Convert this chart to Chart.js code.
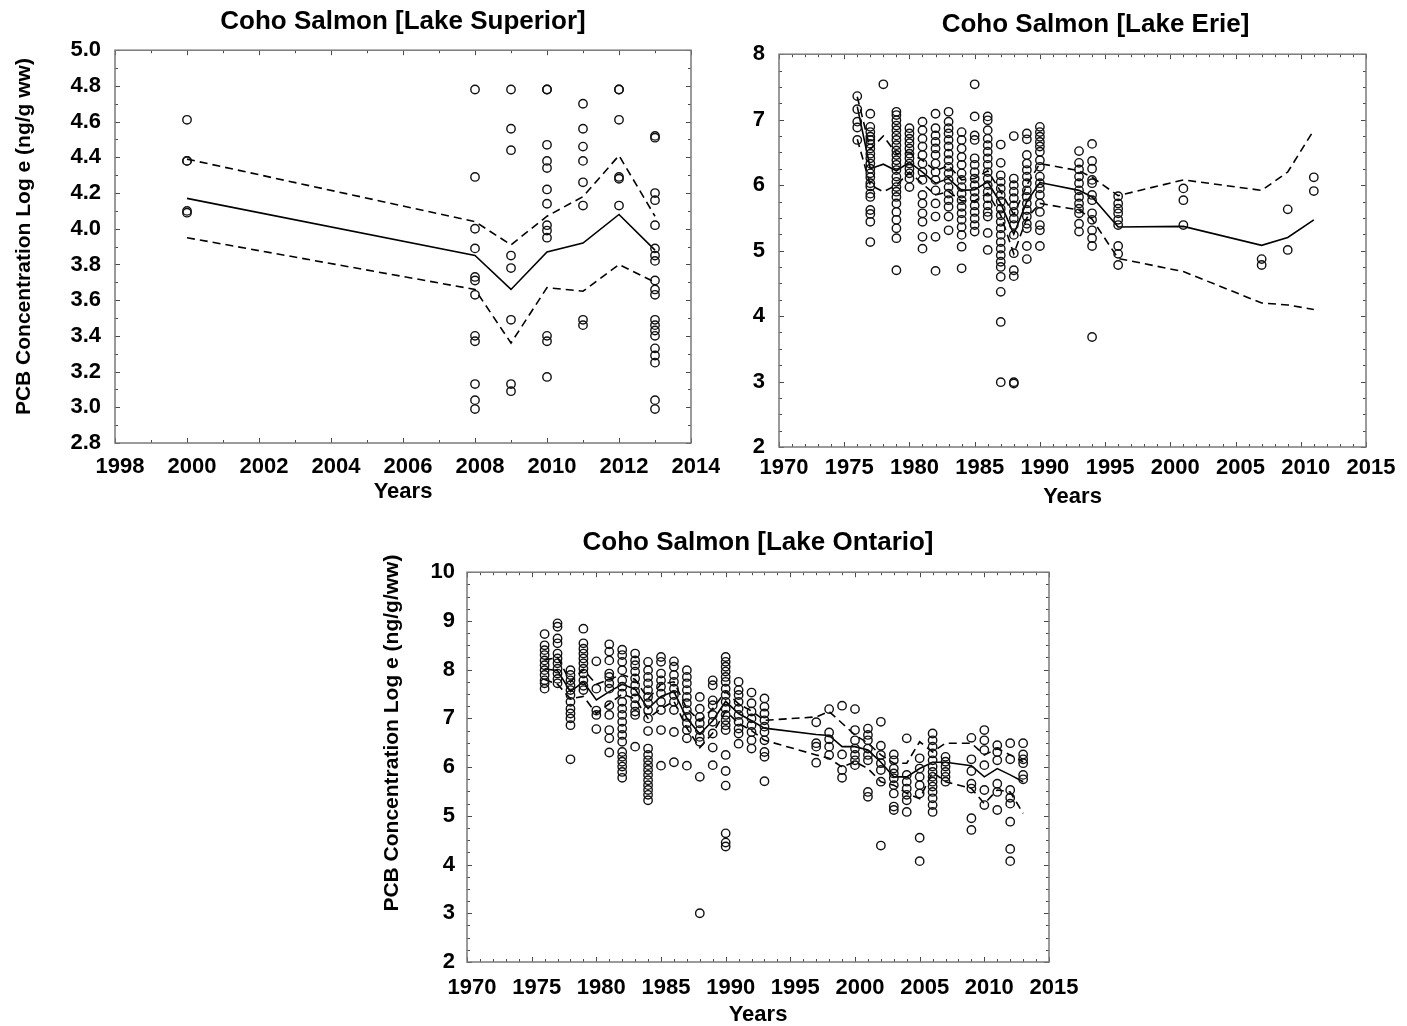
<!DOCTYPE html>
<html><head><meta charset="utf-8">
<script src="https://cdn.jsdelivr.net/npm/chart.js@4.4.1/dist/chart.umd.min.js"></script>
<style>
html,body{margin:0;padding:0;background:#fff;overflow:hidden;width:1407px;height:1026px;}
canvas{position:absolute;display:block;}
</style></head><body>
<canvas id="c1" width="720" height="515" style="left:0;top:0"></canvas>
<canvas id="c2" width="687" height="515" style="left:720px;top:0"></canvas>
<canvas id="c3" width="720" height="522" style="left:360px;top:510px"></canvas>
<script>
// ---------- Lake Superior ----------
const supYears = [2000, 2008, 2009, 2010, 2011, 2012, 2013];
const supObs = [
  [4.61, 4.38, 4.38, 4.10, 4.09],
  [4.78, 4.29, 4.00, 3.89, 3.73, 3.71, 3.63, 3.40, 3.37, 3.13, 3.04, 2.99],
  [4.78, 4.56, 4.44, 3.85, 3.78, 3.49, 3.13, 3.09],
  [4.78, 4.78, 4.47, 4.38, 4.34, 4.22, 4.14, 4.02, 3.99, 3.95, 3.40, 3.37, 3.17],
  [4.70, 4.56, 4.46, 4.38, 4.26, 4.13, 3.49, 3.46],
  [4.78, 4.78, 4.61, 4.29, 4.28, 4.13],
  [4.52, 4.51, 4.20, 4.16, 4.02, 3.89, 3.85, 3.82, 3.71, 3.66, 3.63, 3.49, 3.46, 3.43, 3.40, 3.33, 3.29, 3.25, 3.04, 2.99]
];
const supMean  = [4.17, 3.85, 3.66, 3.87, 3.92, 4.08, 3.88];
const supUpper = [4.39, 4.04, 3.91, 4.07, 4.18, 4.41, 4.07];
const supLower = [3.95, 3.66, 3.36, 3.67, 3.65, 3.80, 3.70];

// ---------- Lake Erie ----------
const erieYears = [1976,1977,1978,1979,1980,1981,1982,1983,1984,1985,1986,1987,1988,1989,1990,1993,1994,1996,2001,2007,2009,2011];
const erieObs = [
  [7.36,7.16,6.97,6.88,6.69],
  [7.09,6.89,6.81,6.74,6.69,6.63,6.56,6.48,6.41,6.33,6.25,6.18,6.12,6.03,5.98,5.87,5.82,5.62,5.56,5.44,5.13],
  [7.54],
  [7.12,7.07,6.99,6.91,6.84,6.76,6.69,6.61,6.53,6.46,6.38,6.31,6.23,6.13,6.05,5.97,5.90,5.82,5.72,5.59,5.47,5.34,5.19,4.70],
  [6.87,6.79,6.71,6.64,6.56,6.48,6.41,6.33,6.25,6.18,6.10,5.97],
  [6.97,6.84,6.71,6.59,6.46,6.33,6.20,6.08,5.85,5.72,5.57,5.44,5.21,5.03],
  [7.09,6.87,6.76,6.66,6.56,6.46,6.33,6.20,6.08,5.92,5.72,5.52,5.21,4.69],
  [7.12,6.97,6.87,6.79,6.69,6.59,6.48,6.38,6.28,6.18,6.08,5.97,5.87,5.77,5.67,5.52,5.31],
  [6.81,6.69,6.56,6.43,6.31,6.18,6.08,5.97,5.87,5.77,5.67,5.57,5.47,5.36,5.24,5.06,4.73],
  [7.54,7.05,6.76,6.69,6.41,6.31,6.20,6.10,6.00,5.90,5.80,5.69,5.59,5.49,5.39,5.29],
  [7.05,6.99,6.84,6.71,6.61,6.51,6.41,6.31,6.20,6.10,6.00,5.90,5.80,5.69,5.59,5.52,5.27,5.01],
  [6.62,6.34,6.15,6.05,5.95,5.85,5.75,5.64,5.54,5.44,5.34,5.24,5.13,5.03,4.93,4.83,4.75,4.60,4.37,3.91,2.99],
  [6.75,6.10,6.00,5.90,5.80,5.69,5.59,5.49,5.39,5.24,4.96,4.70,4.61,2.99,2.97],
  [6.79,6.70,6.46,6.33,6.23,6.13,6.03,5.92,5.82,5.72,5.62,5.52,5.41,5.34,5.07,4.87],
  [6.89,6.81,6.74,6.66,6.59,6.51,6.38,6.28,6.13,6.03,5.95,5.85,5.72,5.59,5.39,5.31,5.07],
  [6.52,6.34,6.24,6.13,6.03,5.92,5.82,5.72,5.64,5.57,5.41,5.29],
  [6.63,6.37,6.25,6.08,6.03,5.85,5.77,5.57,5.47,5.31,5.19,5.07,3.68],
  [5.83,5.72,5.64,5.57,5.47,5.39,5.07,4.95,4.78],
  [5.95,5.77,5.39],
  [4.87,4.78],
  [5.63,5.01],
  [6.12,5.91]
];
const erieMean  = [7.20,6.25,6.32,6.22,6.35,6.20,6.03,6.10,5.92,5.93,6.05,5.72,5.25,5.75,6.04,5.92,5.82,5.36,5.37,5.08,5.20,5.47];
const erieUpper = [7.35,6.55,6.75,6.48,6.50,6.38,6.22,6.30,6.08,6.10,6.22,5.90,5.55,6.00,6.33,6.22,6.12,5.84,6.08,5.92,6.20,6.84];
const erieLower = [6.70,6.00,5.90,6.00,6.20,6.02,5.85,5.90,5.76,5.76,5.88,5.54,4.95,5.50,5.72,5.62,5.48,4.88,4.68,4.20,4.17,4.10];

// ---------- Lake Ontario ----------
const ontYears = [1976,1977,1978,1979,1980,1981,1982,1983,1984,1985,1986,1987,1988,1989,1990,1991,1992,1993,1997,1998,1999,2000,2001,2002,2003,2004,2005,2006,2007,2009,2010,2011,2012,2013];
const ontObs = [
  [8.73,8.50,8.40,8.30,8.19,8.09,7.99,7.89,7.78,7.72,7.61],
  [8.95,8.88,8.64,8.54,8.33,8.23,8.13,8.02,7.92,7.81,7.72],
  [7.99,7.89,7.78,7.68,7.58,7.48,7.34,7.20,7.10,7.00,6.86,6.16],
  [8.84,8.54,8.43,8.33,8.23,8.13,8.02,7.92,7.78,7.67,7.58],
  [8.17,7.61,7.16,7.07,6.78],
  [8.52,8.37,8.19,7.92,7.85,7.72,7.61,7.27,7.07,6.76,6.59,6.30],
  [8.41,8.30,8.16,7.99,7.78,7.65,7.51,7.34,7.20,7.07,6.93,6.79,6.66,6.52,6.31,6.21,6.11,6.01,5.90,5.78],
  [8.33,8.19,8.09,7.96,7.82,7.68,7.55,7.41,7.27,7.14,7.07,6.42],
  [8.16,7.99,7.85,7.72,7.58,7.44,7.31,7.17,7.00,6.74,6.38,6.25,6.14,6.04,5.94,5.84,5.73,5.63,5.53,5.43,5.32],
  [8.26,8.16,7.92,7.78,7.65,7.51,7.34,7.17,6.76,6.03],
  [8.17,8.06,7.89,7.75,7.61,7.48,7.34,7.17,6.72,6.10],
  [7.99,7.85,7.72,7.58,7.44,7.31,7.17,7.03,6.90,6.76,6.59,6.03],
  [7.44,7.20,7.03,6.90,6.76,6.62,6.52,5.80,3.00],
  [7.78,7.68,7.37,7.27,7.07,6.93,6.69,6.40,6.04],
  [8.26,8.16,8.06,7.96,7.85,7.75,7.61,7.48,7.34,7.20,7.07,6.96,6.86,6.76,6.25,5.92,5.62,4.64,4.45,4.37],
  [7.75,7.58,7.48,7.34,7.20,7.07,6.93,6.79,6.69,6.48],
  [7.53,7.31,7.14,7.00,6.86,6.72,6.55,6.38],
  [7.41,7.24,7.10,6.96,6.83,6.72,6.55,6.31,6.21,5.71],
  [6.92,6.49,6.42,6.09],
  [7.19,6.71,6.57,6.42,6.25],
  [7.26,6.26,5.94,5.78],
  [7.19,6.76,6.55,6.38,6.25,6.14,6.04],
  [6.79,6.66,6.55,6.38,6.25,6.14,5.49,5.39],
  [6.93,6.44,6.25,6.08,5.94,5.70,4.39],
  [6.26,6.14,5.97,5.87,5.77,5.63,5.46,5.19,5.12],
  [6.59,5.84,5.70,5.56,5.43,5.32,5.08],
  [6.18,5.97,5.80,5.63,5.46,4.55,4.07],
  [6.69,6.55,6.42,6.28,6.14,6.01,5.90,5.80,5.70,5.60,5.49,5.36,5.22,5.08],
  [6.21,6.11,6.01,5.90,5.80,5.70],
  [6.60,6.16,5.92,5.66,5.56,4.95,4.71],
  [6.76,6.55,6.35,6.04,5.53,5.22],
  [6.45,6.31,6.14,5.66,5.49,5.12],
  [6.49,6.16,5.53,5.37,5.25,4.88,4.32,4.07],
  [6.49,6.26,6.16,6.08,5.84,5.75]
];
const ontMean  = [8.02,7.98,7.55,7.75,7.38,7.55,7.70,7.60,7.20,7.45,7.55,7.00,6.68,6.95,7.35,7.10,6.95,6.80,6.67,6.65,6.42,6.42,6.35,6.10,5.80,5.80,5.97,6.10,6.10,6.03,5.80,5.97,5.84,5.70];
const ontUpper = [8.20,8.25,7.75,8.00,7.70,7.80,7.90,7.80,7.40,7.70,7.75,7.20,6.95,7.20,7.55,7.30,7.15,6.96,7.03,7.14,6.90,6.66,6.49,6.25,6.08,6.08,6.52,6.31,6.49,6.49,6.25,6.38,6.25,6.11];
const ontLower = [7.80,7.70,7.40,7.45,7.10,7.30,7.50,7.40,7.00,7.20,7.35,6.80,6.40,6.70,7.15,6.90,6.75,6.55,6.25,6.18,6.00,6.11,5.97,5.70,5.63,5.46,5.35,5.90,5.70,5.56,5.25,5.53,5.49,5.05];

// ---------- helpers ----------
const FONT = "'Liberation Sans', Arial, sans-serif";
function pointsFrom(years, obs){ const out=[]; years.forEach((yr,i)=>obs[i].forEach(v=>out.push({x:yr,y:v}))); return out; }
function lineFrom(years, vals){ return years.map((yr,i)=>({x:yr,y:vals[i]})); }

const frameTicks = {
  id:'frameTicks',
  afterDatasetsDraw(chart, args, o){
    const {ctx, chartArea:a, scales:{x,y}} = chart;
    ctx.save();
    ctx.beginPath(); ctx.strokeStyle='#4a4a4a'; ctx.lineWidth=1;
    const isMajor=(v,min,step)=>{const r=(v-min)/step; return Math.abs(r-Math.round(r))<1e-6;};
    const nx=Math.round((x.max-x.min)/o.xMinor);
    for(let i=0;i<=nx;i++){
      const v=x.min+i*o.xMinor; const len=isMajor(v,x.min,o.xMajor)?o.major:o.minor;
      const px=Math.round(x.getPixelForValue(v))+0.5;
      ctx.moveTo(px,a.bottom); ctx.lineTo(px,a.bottom-len);
      ctx.moveTo(px,a.top); ctx.lineTo(px,a.top+len);
    }
    const ny=Math.round((y.max-y.min)/o.yMinor);
    for(let i=0;i<=ny;i++){
      const v=y.min+i*o.yMinor; const len=isMajor(v,y.min,o.yMajor)?o.major:o.minor;
      const py=Math.round(y.getPixelForValue(v))+0.5;
      ctx.moveTo(a.left,py); ctx.lineTo(a.left+len,py);
      ctx.moveTo(a.right,py); ctx.lineTo(a.right-len,py);
    }
    ctx.stroke();
    ctx.strokeStyle='#7a7a7a'; ctx.lineWidth=1.5;
    ctx.strokeRect(a.left,a.top,a.right-a.left,a.bottom-a.top);
    ctx.restore();
  }
};

// nudges the chart title horizontally and the y-axis title vertically
const shifter = {
  id:'shifter',
  afterLayout(chart, args, o){
    if(o.titleDx && chart.titleBlock){ chart.titleBlock.left += o.titleDx; chart.titleBlock.right += o.titleDx; }
    const s = chart.scales.y;
    if(o.yTitleDy && s && !s.__shifted){
      s.__shifted = true;
      const orig = s.drawTitle;
      s.drawTitle = function(){ const c=this.ctx; c.save(); c.translate(0,o.yTitleDy); orig.call(this); c.restore(); };
    }
  }
};

function panel(id, o){
  const lineDs=(vals,dash)=>({data:lineFrom(o.years,vals), showLine:true, borderColor:'#000', backgroundColor:'#000', borderWidth:1.6, borderDash:dash, pointRadius:0, fill:false, order:1});
  const tickFont = {family:FONT, size:22, weight:'bold'};
  return new Chart(document.getElementById(id), {
    type:'scatter',
    data:{datasets:[
      lineDs(o.upper,[8,5]),
      lineDs(o.lower,[8,5]),
      lineDs(o.mean,[]),
      {data:pointsFrom(o.years,o.obs), showLine:false, pointRadius:4.2, pointBorderWidth:1.4,
       borderColor:'#111', backgroundColor:'rgba(0,0,0,0)', pointBorderColor:'#111', pointBackgroundColor:'rgba(0,0,0,0)', order:0}
    ]},
    options:{
      responsive:false, animation:false, events:[], devicePixelRatio:1,
      layout:{padding:{left:o.padL, right:o.padR, top:0, bottom:o.padB}},
      plugins:{
        legend:{display:false}, tooltip:{enabled:false},
        title:{display:true, text:o.title, fullSize:false, color:'#000',
               font:{family:FONT, size:26, weight:'bold'}, padding:{top:o.tTop, bottom:o.tBot}},
        frameTicks:{xMinor:o.xMinor, xMajor:o.xStep, yMinor:o.yMinor, yMajor:o.yStep, major:5, minor:3},
        shifter:{titleDx:o.titleDx||0, yTitleDy:o.yTitleDy||0}
      },
      scales:{
        x:{type:'linear', position:'bottom', min:o.xMin, max:o.xMax,
           grid:{display:false, drawTicks:false}, border:{display:false},
           ticks:{stepSize:o.xStep, color:'#000', font:tickFont, padding:o.xPad, labelOffset:5, maxRotation:0, autoSkip:false, callback:v=>String(v)},
           title:{display:true, text:'Years', color:'#000', font:{family:FONT, size:22, weight:'bold'}, padding:{top:0, bottom:4}},
           afterFit:s=>{s.height=o.xH; s.paddingLeft=0; s.paddingRight=0;}},
        y:{type:'linear', position:'left', min:o.yMin, max:o.yMax,
           grid:{display:false, drawTicks:false}, border:{display:false},
           ticks:{stepSize:o.yStep, color:'#000', font:tickFont, padding:o.yPad, autoSkip:false, callback:v=>o.yDec?Number(v).toFixed(o.yDec):String(Math.round(v))},
           title:{display:!!o.yTitle, text:o.yTitle||'', color:'#000', font:{family:FONT, size:21, weight:'bold'}, padding:{top:4, bottom:0}},
           afterFit:s=>{s.width=o.yW; s.paddingTop=0; s.paddingBottom=0;}}
      }
    },
    plugins:[frameTicks, shifter]
  });
}

panel('c1', {title:'Coho Salmon [Lake Superior]', years:supYears, obs:supObs, mean:supMean, upper:supUpper, lower:supLower,
  xMin:1998, xMax:2014, xStep:2, xMinor:1, yMin:2.8, yMax:5.0, yStep:0.2, yMinor:0.1, yDec:1,
  yTitle:'PCB Concentration Log e (ng/g ww)', yTitleDy:-10,
  padL:8, padR:29, padB:6, yW:107, xH:66, tTop:6, tBot:13, xPad:11, yPad:14});

panel('c2', {title:'Coho Salmon [Lake Erie]', years:erieYears, obs:erieObs, mean:erieMean, upper:erieUpper, lower:erieLower,
  xMin:1970, xMax:2015, xStep:5, xMinor:1, yMin:2, yMax:8, yStep:1, yMinor:0.25, yDec:0,
  yTitle:'', titleDx:23,
  padL:0, padR:41, padB:1, yW:59, xH:67, tTop:9, tBot:14, xPad:8, yPad:14});

panel('c3', {title:'Coho Salmon [Lake Ontario]', years:ontYears, obs:ontObs, mean:ontMean, upper:ontUpper, lower:ontLower,
  xMin:1970, xMax:2015, xStep:5, xMinor:1, yMin:2, yMax:10, yStep:1, yMinor:0.25, yDec:0,
  yTitle:'PCB Concentration Log e (ng/g/ww)', yTitleDy:-34,
  padL:16, padR:31, padB:0, yW:91, xH:70, tTop:17, tBot:14, xPad:13, yPad:12});
</script>
</body></html>
